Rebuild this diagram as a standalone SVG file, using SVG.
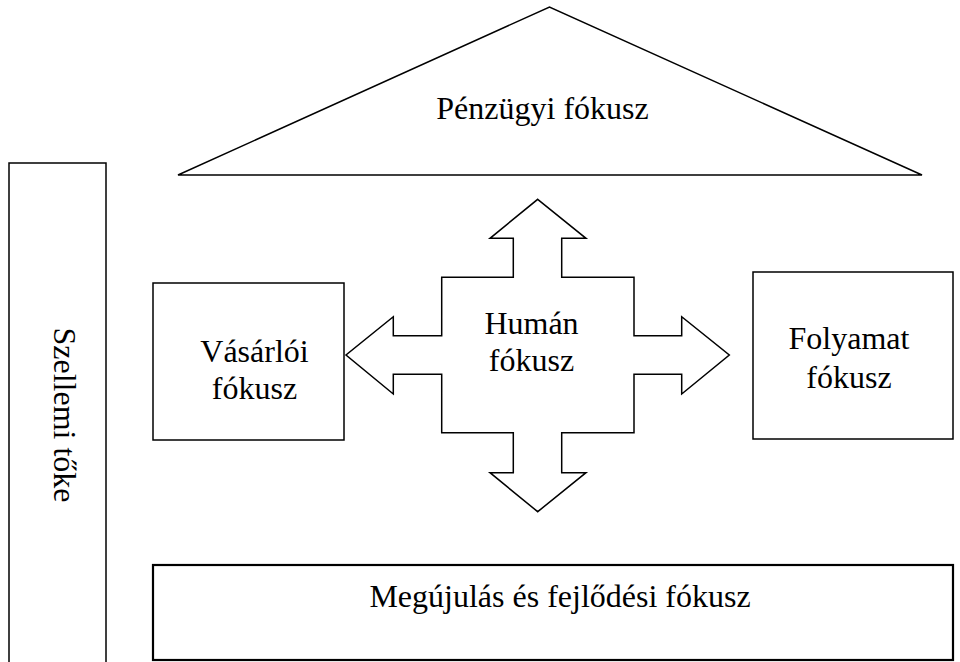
<svg xmlns="http://www.w3.org/2000/svg" width="960" height="662" viewBox="0 0 960 662">
  <style>
    .shape { fill: #ffffff; stroke: #000000; stroke-width: 1.5; stroke-linejoin: miter; }
    .heavy { stroke-width: 2.2; }
    .label { font-family: "Liberation Serif", "Times New Roman", serif; font-size: 32px; fill: #000000; text-anchor: middle; }
  </style>
  <rect width="960" height="662" fill="#ffffff"/>

  <!-- Intellectual capital column (runs off the bottom edge) -->
  <g id="szellemi-toke">
    <rect class="shape" x="9" y="163" width="97" height="520"/>
    <text class="label" transform="translate(54 415) rotate(90)">Szellemi tőke</text>
  </g>

  <!-- Roof: financial focus -->
  <g id="penzugyi-fokusz">
    <polygon class="shape" points="178,175 549.5,7 922,175"/>
    <text class="label" x="542.5" y="119">Pénzügyi fókusz</text>
  </g>

  <!-- Customer focus -->
  <g id="vasarloi-fokusz">
    <rect class="shape" x="153" y="283" width="191" height="157"/>
    <text class="label" x="254.5" y="362">Vásárlói</text>
    <text class="label" x="254.5" y="399">fókusz</text>
  </g>

  <!-- Process focus -->
  <g id="folyamat-fokusz">
    <rect class="shape" x="753" y="272" width="200" height="167"/>
    <text class="label" x="849" y="349">Folyamat</text>
    <text class="label" x="849" y="388">fókusz</text>
  </g>

  <!-- Renewal and development focus -->
  <g id="megujulas-fokusz">
    <rect class="shape heavy" x="153" y="565" width="800" height="95"/>
    <text class="label" x="560" y="607">Megújulás és fejlődési fókusz</text>
  </g>

  <!-- Human focus: four-way arrow -->
  <g id="human-fokusz">
    <polygon class="shape" points="537.7,199.3 586,238.3 561.7,238.3 561.7,277.3 634,277.3 634,335.7 681.7,335.7 681.7,316.7 729.3,355 681.7,394 681.7,374.3 634,374.3 634,432.7 561.7,432.7 561.7,472.7 586,472.7 537.7,511.7 490,472.7 513.3,472.7 513.3,432.7 441.7,432.7 441.7,374.3 393.3,374.3 393.3,394 346,355 393.3,316.7 393.3,335.7 441.7,335.7 441.7,277.3 513.3,277.3 513.3,238.3 490,238.3"/>
    <text class="label" x="531.5" y="334">Humán</text>
    <text class="label" x="531.5" y="371">fókusz</text>
  </g>

  <!-- Connectors: none beyond the arrow shape itself -->
  <g id="connectors"/>
</svg>
